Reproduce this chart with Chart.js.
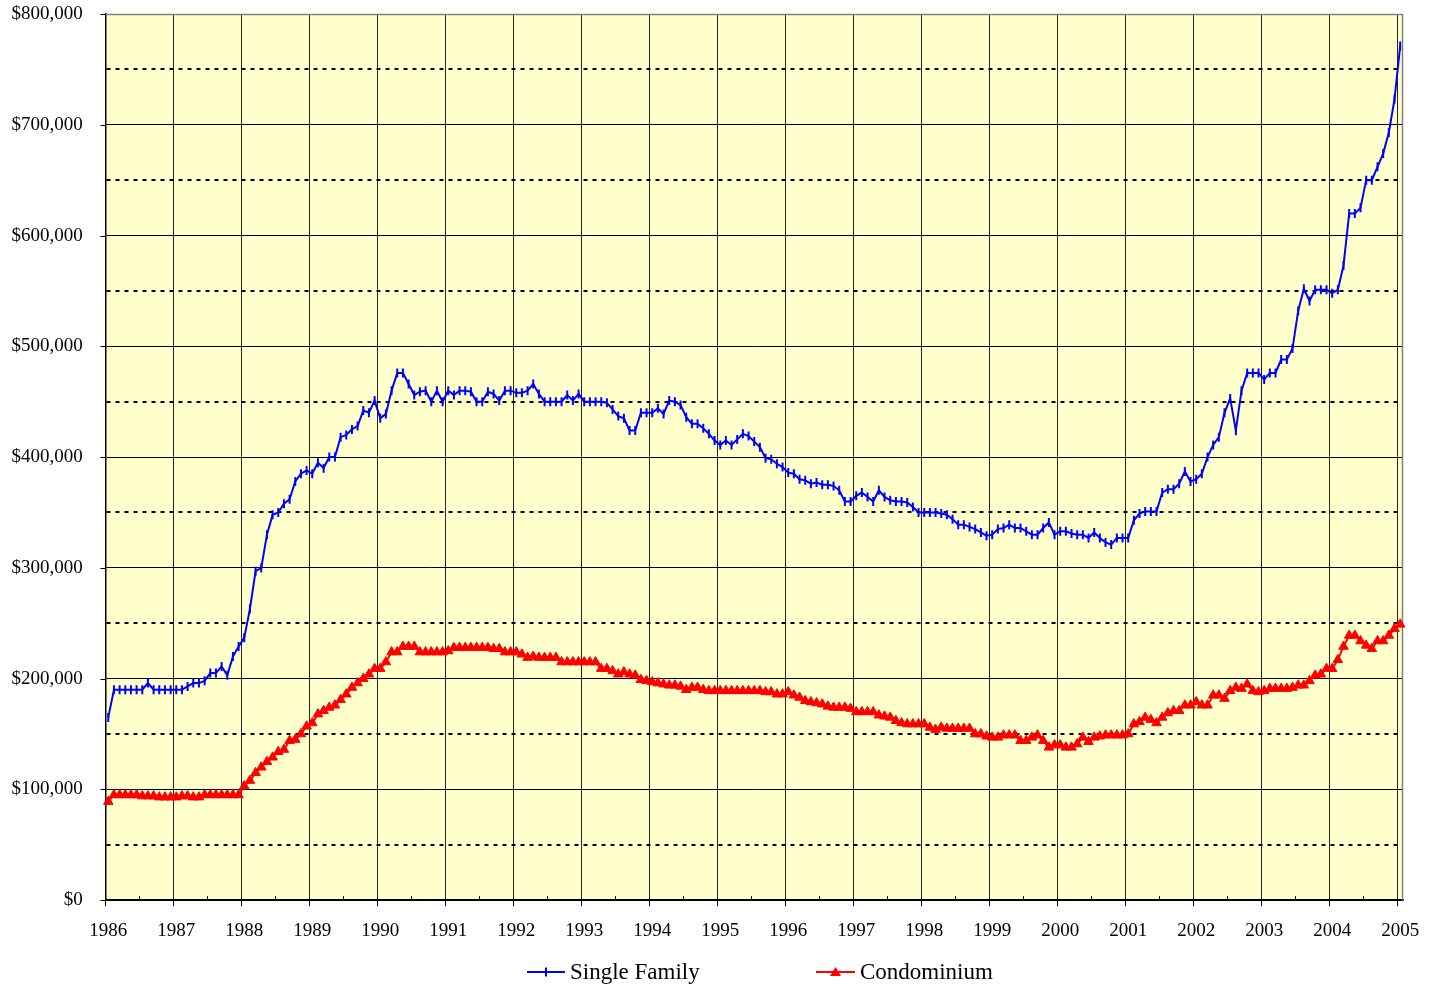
<!DOCTYPE html>
<html><head><meta charset="utf-8">
<script src="https://cdn.jsdelivr.net/npm/chart.js@4.4.0/dist/chart.umd.min.js"></script>
<style>
html,body{margin:0;padding:0;background:#fff;}
#wrap{position:relative;width:1435px;height:987px;}
canvas{display:block;}
.leg{position:absolute;top:959px;height:26px;display:flex;align-items:center;font-family:"Liberation Serif","Times New Roman",serif;font-size:23px;color:#000;white-space:nowrap;}
.leg svg{margin-right:5px;}
</style></head>
<body><div id="wrap"><canvas id="c" width="1435" height="987"></canvas>
<div class="leg" style="left:527px"><svg width="38" height="14"><line x1="0" y1="7" x2="38" y2="7" stroke="#0000FF" stroke-width="2"/><line x1="19" y1="2.5" x2="19" y2="11.5" stroke="#0000FF" stroke-width="2"/></svg><span>Single Family</span></div>
<div class="leg" style="left:816px"><svg width="39" height="14"><line x1="0" y1="7" x2="39" y2="7" stroke="#FF0000" stroke-width="2"/><polygon points="19.5,2 25,11 14,11" fill="#FF0000"/></svg><span>Condominium</span></div>
</div>
<script>
const yearLabels = ['1986','1987','1988','1989','1990','1991','1992','1993','1994','1995','1996','1997','1998','1999','2000','2001','2002','2003','2004','2005'];
const monthNames = ['Jan','Feb','Mar','Apr','May','Jun','Jul','Aug','Sep','Oct','Nov','Dec'];
const yTickLabels = ['$0','$100,000','$200,000','$300,000','$400,000','$500,000','$600,000','$700,000','$800,000'];

// Median prices, thousands of dollars, monthly Jan 1986 .. Jan 2005
const singleFamily = [
 165,190,190,190,190,190,190,196,190,190,190,190,
 190,190,193,196,196,198,205,205,211,203,220,229,
 237,263,297,300,330,348,350,358,362,378,385,388,
 385,395,390,400,400,418,420,425,428,442,440,451,
 435,439,460,476,476,466,456,459,460,450,460,450,
 460,456,460,460,459,450,450,459,457,451,460,460,
 458,458,460,466,457,450,450,450,450,456,451,457,
 450,450,450,450,449,443,437,435,424,424,440,440,
 440,444,439,451,450,447,436,430,430,426,421,415,
 411,415,411,416,421,419,414,409,399,398,394,391,
 386,385,380,379,376,377,375,375,374,370,360,360,
 365,368,364,360,370,364,361,360,360,359,355,350,
 350,350,350,349,348,344,339,339,337,335,332,329,
 330,335,336,339,336,336,333,330,330,336,341,330,
 333,333,331,330,330,327,332,327,323,321,327,327,
 327,343,349,351,351,351,368,371,371,376,387,378,
 380,385,400,411,418,440,453,424,460,476,476,476,
 470,476,476,488,488,498,532,552,541,551,551,551,
 548,551,573,620,620,625,650,650,662,674,693,723,
 771
];
const condominium = [
 89,95,95,95,95,95,94,94,94,93,93,93,
 93,94,94,93,93,95,95,95,95,95,95,95,
 103,108,115,120,125,129,134,136,144,145,150,157,
 160,168,171,174,176,181,186,192,196,200,204,209,
 209,215,224,224,229,229,229,224,224,224,224,224,
 225,228,228,228,228,228,228,228,227,227,224,224,
 224,222,219,220,219,219,219,219,215,215,215,215,
 215,215,215,209,209,207,204,206,204,203,199,198,
 197,196,195,194,194,193,190,192,192,190,189,189,
 189,189,189,189,189,189,189,189,188,188,186,186,
 188,185,183,180,179,178,177,175,174,174,174,173,
 170,170,170,170,167,166,165,162,160,159,159,159,
 159,156,154,156,155,155,155,155,155,150,150,148,
 147,147,149,149,149,144,144,147,149,144,138,140,
 140,138,138,141,147,143,147,148,149,149,149,149,
 150,159,161,165,163,160,165,169,171,171,176,176,
 179,176,176,185,185,182,189,192,191,195,189,188,
 189,191,191,191,191,192,194,194,198,203,204,209,
 209,217,229,239,239,234,230,227,234,234,239,245,
 249
];

const categories = [];
for (let y = 0; categories.length < singleFamily.length; y++) {
  for (let m = 0; m < 12 && categories.length < singleFamily.length; m++) {
    categories.push(monthNames[m] + ' ' + yearLabels[y]);
  }
}

const serif = '"Liberation Serif","Times New Roman",serif';
Chart.defaults.font.family = serif;

const plotFrame = {
  id: 'plotFrame',
  beforeDraw(chart) {
    const {ctx, chartArea: a} = chart;
    ctx.save();
    ctx.fillStyle = '#FFFFCC';
    ctx.fillRect(a.left, a.top, a.right - a.left, a.bottom - a.top);
    ctx.restore();
  },
  beforeDatasetsDraw(chart) {
    const {ctx, chartArea: a} = chart;
    const xs = chart.scales.x;
    const ys = chart.scales.y;
    ctx.save();
    ctx.strokeStyle = '#808080';
    ctx.lineWidth = 1.5;
    ctx.beginPath();
    ctx.moveTo(a.left, a.top + 0.5);
    ctx.lineTo(a.right - 0.5, a.top + 0.5);
    ctx.lineTo(a.right - 0.5, a.bottom);
    ctx.stroke();
    ctx.strokeStyle = '#000';
    ctx.lineWidth = 1;
    ctx.beginPath();
    // minor (mid-year) inside tick marks on the category axis
    const half = (xs.getPixelForValue(1) - xs.getPixelForValue(0)) / 2;
    for (let k = 0; k * 12 + 6 < categories.length; k++) {
      const px = Math.round(xs.getPixelForValue(k * 12 + 6) - half) + 0.5;
      ctx.moveTo(px, a.bottom - 4);
      ctx.lineTo(px, a.bottom);
    }
    // outside tick marks at the labelled value ticks
    ys.ticks.forEach(t => {
      if (t.value % 100 === 0) {
        const py = Math.round(ys.getPixelForValue(t.value)) + 0.5;
        ctx.moveTo(a.left - 5, py);
        ctx.lineTo(a.left, py);
      }
    });
    ctx.stroke();
    ctx.restore();
  }
};

new Chart(document.getElementById('c'), {
  type: 'line',
  data: {
    labels: categories,
    datasets: [
      {
        label: 'Single Family',
        data: singleFamily,
        borderColor: '#0000FF',
        backgroundColor: '#0000FF',
        borderWidth: 2,
        tension: 0,
        pointStyle: 'line',
        rotation: 90,
        pointRadius: 4.5,
        pointBorderWidth: 2,
        pointBorderColor: '#0000FF',
        pointHoverRadius: 4.5
      },
      {
        label: 'Condominium',
        data: condominium,
        borderColor: '#FF0000',
        backgroundColor: '#FF0000',
        borderWidth: 2,
        tension: 0,
        pointStyle: 'triangle',
        pointRadius: 5.5,
        pointBorderWidth: 1,
        pointBorderColor: '#FF0000',
        pointBackgroundColor: '#FF0000',
        pointHoverRadius: 5.5
      }
    ]
  },
  options: {
    responsive: false,
    animation: false,
    events: [],
    layout: {padding: {left: 9, right: 32, top: 0, bottom: 32}},
    plugins: {
      legend: {display: false},
      tooltip: {enabled: false},
      title: {display: false}
    },
    scales: {
      x: {
        type: 'category',
        offset: true,
        grid: {
          offset: true,
          color: c => (c.index % 12 === 0 ? 'rgba(0,0,0,0.85)' : 'rgba(0,0,0,0)'),
          lineWidth: 1,
          tickLength: 6,
          tickColor: c => (c.index % 12 === 0 ? '#000' : 'rgba(0,0,0,0)')
        },
        border: {color: '#000', width: 1.5},
        ticks: {
          autoSkip: false,
          maxRotation: 0,
          minRotation: 0,
          padding: 13,
          color: '#000',
          font: {family: serif, size: 19},
          callback: (v, i) => (i % 12 === 0 ? yearLabels[i / 12] : '')
        }
      },
      y: {
        min: 0,
        max: 800,
        ticks: {
          stepSize: 50,
          padding: 2.6,
          color: '#000',
          font: {family: serif, size: 19},
          callback: v => (v % 100 === 0 ? yTickLabels[v / 100] : '')
        },
        grid: {
          color: c => (c.tick && c.tick.value === 800 ? '#808080' : '#000'),
          lineWidth: c => (c.tick && c.tick.value % 100 !== 0 ? 2 : 1),
          tickLength: 20,
          tickColor: 'rgba(0,0,0,0)'
        },
        border: {
          color: '#000',
          width: 1.5,
          dash: c => (c.tick && c.tick.value % 100 !== 0 ? [4, 5] : [])
        }
      }
    }
  },
  plugins: [plotFrame]
});
</script>
</body></html>
